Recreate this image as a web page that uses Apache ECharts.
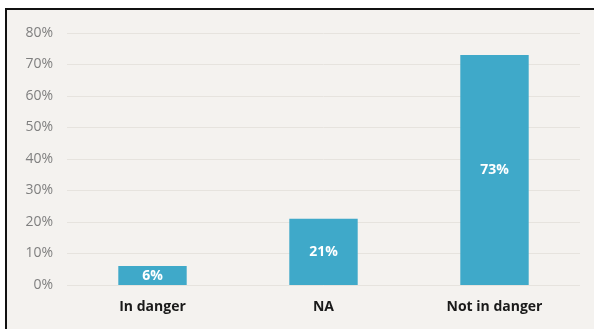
<!DOCTYPE html>
<html>
<head>
<meta charset="utf-8">
<script src="https://cdn.jsdelivr.net/npm/echarts@6/dist/echarts.min.js"></script>
<style>
  html, body { margin: 0; padding: 0; background: #ffffff; }
  .frame {
    position: absolute; left: 5px; top: 8px;
    width: 589px; height: 321px;
    border-top: 2px solid #111; border-left: 2px solid #111;
    background: #f4f2ef;
  }
  #chart { position: absolute; left: 0; top: 0; width: 594px; height: 329px; }
</style>
</head>
<body>
<div class="frame"></div>
<div id="chart"></div>
<script>
// 数据
const categories = ['In danger', 'NA', 'Not in danger']
const shareValues = [6, 21, 73]
const tickLabels = ['0%', '10%', '20%', '30%', '40%', '50%', '60%', '70%', '80%']

const myChart = echarts.init(document.getElementById('chart'))
myChart.setOption({
  animation: false,
  grid: {
    top: 33,
    left: 67,
    right: 14,
    bottom: 44
  },
  xAxis: {
    type: 'category',
    data: categories,
    axisLine: { show: false },
    axisTick: { show: false },
    axisLabel: {
      color: '#1a1a1a',
      fontWeight: 'bold',
      fontSize: 14,
      fontFamily: 'Open Sans',
      margin: 15
    }
  },
  yAxis: {
    type: 'value',
    min: 0,
    max: 80,
    interval: 10,
    axisLine: { show: false },
    axisTick: { show: false },
    splitLine: {
      lineStyle: { color: '#e6e3de' }
    },
    axisLabel: {
      color: '#7f7f7f',
      fontSize: 14,
      fontFamily: 'Open Sans',
      margin: 14,
      formatter: function (v) {
        return tickLabels[v / 10]
      }
    }
  },
  series: [{
    type: 'bar',
    data: shareValues,
    barCategoryGap: '60%',
    itemStyle: { color: '#3fa9c9' },
    label: {
      show: true,
      position: 'inside',
      color: '#ffffff',
      fontWeight: 'bold',
      fontSize: 14,
      fontFamily: 'Open Sans',
      formatter: '{c}%'
    }
  }]
})
</script>
</body>
</html>
